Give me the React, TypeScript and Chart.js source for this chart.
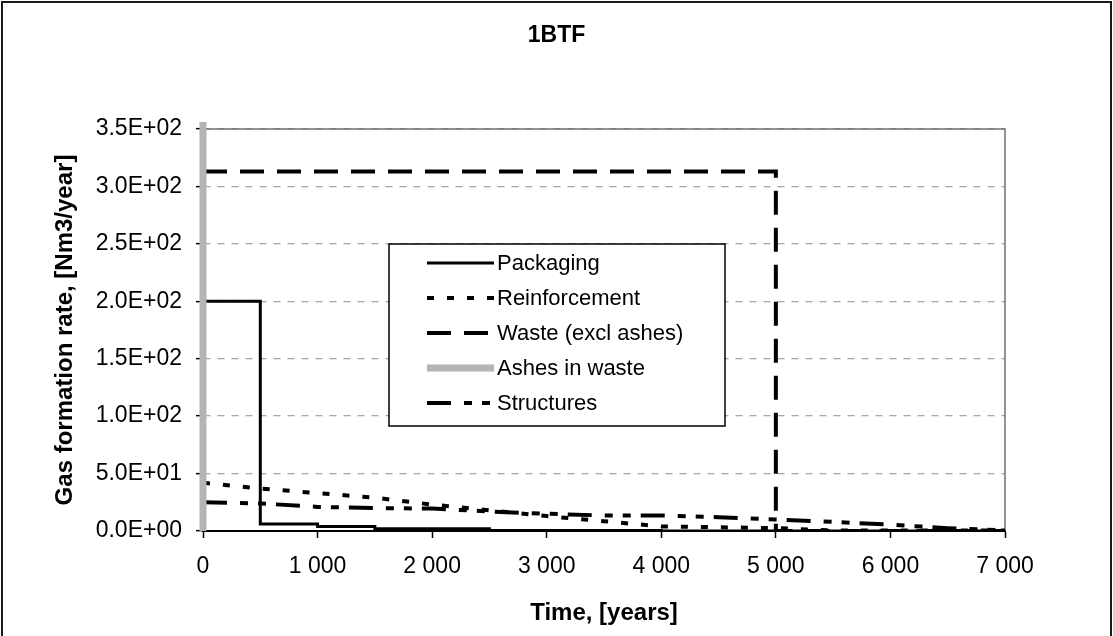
import React, { useEffect, useRef } from "react";
import { Chart, registerables } from "chart.js";

Chart.register(...registerables);

const FONT = '"Liberation Sans", Arial, Helvetica, sans-serif';

const chartTitle = "1BTF";
const xAxisTitle = "Time, [years]";
const yAxisTitle = "Gas formation rate, [Nm3/year]";

const xTickLabels = ["0", "1 000", "2 000", "3 000", "4 000", "5 000", "6 000", "7 000"];
const yTickLabels = ["0.0E+00", "5.0E+01", "1.0E+02", "1.5E+02", "2.0E+02", "2.5E+02", "3.0E+02", "3.5E+02"];

const packagingX = [0, 500, 1000, 1500, 2500, 4000, 7000];
const packagingY = [200, 6, 4, 2, 0.5, 0, 0];

const reinforcementX = [0, 500, 1000, 1500, 2000, 2500, 3000, 3500, 4000, 5000, 5500, 7000];
const reinforcementY = [42, 37, 33, 29, 23, 18, 13, 8.5, 4, 2.5, 0.5, 0.5];

const wasteX = [0, 5000, 7000];
const wasteY = [313, 0, 0];

const ashesX = [0, 0];
const ashesY = [0, 356];

const structuresX = [0, 500, 1000, 1500, 2000, 2500, 3000, 3500, 4000, 4500, 5000, 5500, 6000, 6500, 7000];
const structuresY = [25, 24, 21, 20, 19.5, 17, 15, 13.5, 13.5, 12, 10, 8, 5.5, 2.5, 0.5];

const toPoints = (xs: number[], ys: number[]) => xs.map((x, i) => ({ x, y: ys[i] }));

const titlePlugin = {
  id: "centerTitle",
  afterDraw(chart: any) {
    const { ctx, width } = chart;
    ctx.save();
    ctx.fillStyle = "#000";
    ctx.font = `bold 23px ${FONT}`;
    ctx.textAlign = "center";
    ctx.textBaseline = "middle";
    ctx.fillText(chartTitle, width / 2, 36);
    ctx.restore();
  },
};

const boxLegend = {
  id: "boxLegend",
  afterDraw(chart: any) {
    const { ctx, chartArea: ca } = chart;
    const left = ca.left + 186;
    const top = ca.top + 115;
    const w = 336;
    const h = 182;
    ctx.save();
    ctx.fillStyle = "#ffffff";
    ctx.fillRect(left, top, w, h);
    ctx.strokeStyle = "#000";
    ctx.lineWidth = 1.5;
    ctx.setLineDash([]);
    ctx.strokeRect(left, top, w, h);
    chart.data.datasets.forEach((ds: any, i: number) => {
      const y = top + 19 + i * 35;
      ctx.beginPath();
      ctx.setLineDash(ds.borderDash || []);
      ctx.lineWidth = ds.borderWidth;
      ctx.strokeStyle = ds.borderColor;
      ctx.lineCap = "butt";
      ctx.moveTo(left + 38, y);
      ctx.lineTo(left + 105, y);
      ctx.stroke();
      ctx.setLineDash([]);
      ctx.fillStyle = "#000";
      ctx.font = `22px ${FONT}`;
      ctx.textBaseline = "middle";
      ctx.textAlign = "left";
      ctx.fillText(ds.label, left + 108, y + 1);
    });
    ctx.restore();
  },
};

const plotBorder = {
  id: "plotBorder",
  beforeDatasetsDraw(chart: any) {
    const { ctx, chartArea: ca } = chart;
    ctx.save();
    ctx.strokeStyle = "#707070";
    ctx.lineWidth = 1.5;
    ctx.beginPath();
    ctx.moveTo(ca.left, ca.top);
    ctx.lineTo(ca.right, ca.top);
    ctx.lineTo(ca.right, ca.bottom);
    ctx.stroke();
    ctx.restore();
  },
};

export default function App() {
  const ref = useRef<HTMLCanvasElement | null>(null);

  useEffect(() => {
    if (!ref.current) return;
    const chart = new Chart(ref.current, {
      type: "line",
      data: {
        datasets: [
          {
            label: "Packaging",
            data: toPoints(packagingX, packagingY),
            borderColor: "#000000",
            borderWidth: 3,
            borderDash: [],
            stepped: "before",
            pointRadius: 0,
            fill: false,
            order: 5,
          },
          {
            label: "Reinforcement",
            data: toPoints(reinforcementX, reinforcementY),
            borderColor: "#000000",
            borderWidth: 4,
            borderDash: [7, 13],
            pointRadius: 0,
            fill: false,
            order: 4,
          },
          {
            label: "Waste (excl ashes)",
            data: toPoints(wasteX, wasteY),
            borderColor: "#000000",
            borderWidth: 4,
            borderDash: [24, 13],
            stepped: "before",
            pointRadius: 0,
            fill: false,
            order: 3,
          },
          {
            label: "Ashes in waste",
            data: toPoints(ashesX, ashesY),
            borderColor: "#b4b4b4",
            borderWidth: 7,
            borderDash: [],
            pointRadius: 0,
            fill: false,
            order: 0,
            clip: { left: 8, top: 8, right: 8, bottom: 8 },
          },
          {
            label: "Structures",
            data: toPoints(structuresX, structuresY),
            borderColor: "#000000",
            borderWidth: 4,
            borderDash: [24, 13, 8, 10, 8, 10],
            pointRadius: 0,
            fill: false,
            order: 1,
          },
        ] as any,
      },
      options: {
        animation: false,
        responsive: false,
        maintainAspectRatio: false,
        layout: { padding: { left: 51, right: 108, top: 129, bottom: 0 } },
        plugins: {
          legend: { display: false },
          tooltip: { enabled: false },
          title: { display: false },
        },
        scales: {
          x: {
            type: "linear",
            min: 0,
            max: 7000,
            afterFit: (s: any) => {
              s.height = 105;
              s.paddingLeft = 0;
              s.paddingRight = 0;
            },
            ticks: {
              stepSize: 1000,
              color: "#000",
              font: { family: FONT, size: 23 },
              padding: 15,
              maxRotation: 0,
              callback: (_v: any, i: number) => xTickLabels[i],
            },
            grid: {
              drawOnChartArea: false,
              tickLength: 7,
              tickColor: "#000",
              tickWidth: 1.5,
            },
            border: { color: "#000", width: 2 },
            title: {
              display: true,
              text: xAxisTitle,
              color: "#000",
              font: { family: FONT, size: 24, weight: "bold" },
              padding: { top: 0, bottom: 8 },
            },
          },
          y: {
            type: "linear",
            min: 0,
            max: 350,
            afterFit: (s: any) => {
              s.width = 152;
              s.paddingTop = 0;
              s.paddingBottom = 0;
            },
            ticks: {
              stepSize: 50,
              color: "#000",
              font: { family: FONT, size: 23 },
              padding: 14,
              callback: (_v: any, i: number) => yTickLabels[i],
            },
            grid: {
              color: "#a8a8a8",
              lineWidth: 1.3,
              tickLength: 7,
              tickColor: "#000",
              tickWidth: 1.5,
              tickBorderDash: [],
            } as any,
            border: { color: "#000", width: 1.5, dash: [7, 7] } as any,
            title: {
              display: true,
              text: yAxisTitle,
              color: "#000",
              font: { family: FONT, size: 24, weight: "bold" },
              padding: { top: 0, bottom: 0 },
            },
          },
        },
      } as any,
      plugins: [plotBorder, boxLegend, titlePlugin],
    });
    return () => chart.destroy();
  }, []);

  return (
    <div
      style={{
        position: "fixed",
        left: 0,
        top: 0,
        width: 1113,
        height: 636,
        background: "#ffffff",
        overflow: "hidden",
      }}
    >
      <canvas ref={ref} width={1113} height={636} style={{ position: "absolute", left: 0, top: 0 }} />
      <div
        style={{
          position: "absolute",
          left: 1,
          top: 1,
          width: 1107,
          height: 700,
          border: "2px solid #1a1a1a",
          pointerEvents: "none",
        }}
      />
    </div>
  );
}
